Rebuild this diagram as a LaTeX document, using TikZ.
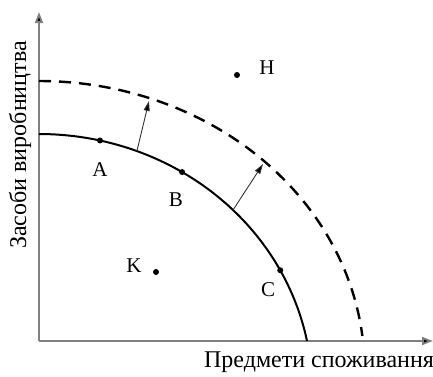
\documentclass[tikz,border=0pt]{standalone}
\usepackage{fontspec}
\setmainfont{Liberation Serif}
\usetikzlibrary{arrows.meta}
\begin{document}
\begin{tikzpicture}[x=1pt,y=-1pt,
  axis/.style={draw=black!50,line width=1.8pt,-{Triangle[length=11pt,width=8pt,fill=black]}},
  ppf/.style={line width=2pt},
  ppfnew/.style={line width=2.4pt,dash pattern=on 12pt off 8pt},
  shift arrow/.style={draw=black!80,line width=0.9pt,-{Triangle[length=10pt,width=6pt,fill=black]}},
  dot/.style={circle,fill=black,inner sep=0pt,minimum size=6pt},
  lbl/.style={font=\fontsize{21}{24}\selectfont,inner sep=0pt},
  axlbl/.style={font=\fontsize{24}{28}\selectfont,inner sep=0pt}]
\useasboundingbox (0,0) rectangle (433,376);
\coordinate (O) at (39,341);
\coordinate (Ytip) at (39,12);
\coordinate (Xtip) at (433,341);
\draw[axis] (O) -- (Ytip);
\draw[axis] (O) -- (Xtip);
% production possibility frontiers (elliptic arcs)
\draw[ppf] plot[domain=90:11.18,samples=120] ({39+273.2*cos(\x)},{390.8-256.8*sin(\x)});
\draw[ppfnew] plot[domain=90:6.7,samples=120] ({39+325.6*cos(\x)},{369.6-288.6*sin(\x)});
\coordinate (s1) at ({39+273.2*cos(69)},{390.8-256.8*sin(69)});
\coordinate (e1) at (149,101);
\coordinate (s2) at ({39+273.2*cos(44.75)},{390.8-256.8*sin(44.75)});
\coordinate (e2) at (263,164);
\draw[shift arrow] (s1) -- (e1);
\draw[shift arrow] (s2) -- (e2);
\node[dot] (A) at ({39+273.2*cos(77.1)},{390.8-256.8*sin(77.1)}) {};
\node[dot] (B) at ({39+273.2*cos(58.4)},{390.8-256.8*sin(58.4)}) {};
\node[dot] (C) at ({39+273.2*cos(28)},{390.8-256.8*sin(28)}) {};
\node[dot] (H) at (237,75) {};
\node[dot] (K) at (156,272) {};
\node[lbl] (lA) at (100,170) {A};
\node[lbl] (lB) at (176,200) {B};
\node[lbl] (lC) at (268,290) {C};
\node[lbl] (lH) at (267,68) {H};
\node[lbl] (lK) at (134,266) {K};
\node[axlbl,rotate=90] (ylab) at (20,145) {Засоби виробництва};
\node[axlbl] (xlab) at (319,362) {Предмети споживання};
\end{tikzpicture}
\end{document}
